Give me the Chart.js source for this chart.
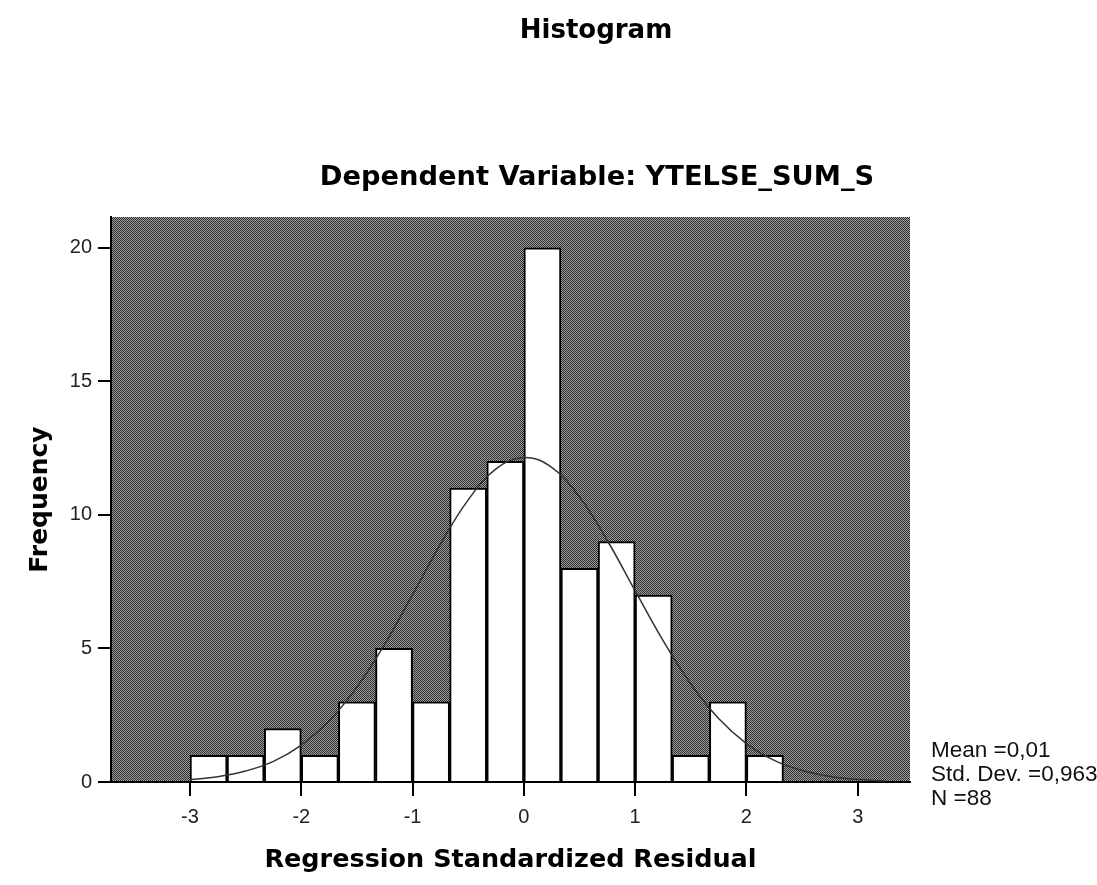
<!DOCTYPE html>
<html>
<head>
<meta charset="utf-8">
<script src="https://cdn.jsdelivr.net/npm/chart.js@4.4.1/dist/chart.umd.min.js"></script>
<style>
  body { margin: 0; background: #fff; }
  #wrap { width: 1097px; height: 885px; position: relative; overflow: hidden; }
</style>
</head>
<body>
<div id="wrap"><canvas id="hist" width="1097" height="885"></canvas></div>
<script>
// histogram bins (lower edge of each bin, width 1/3)
const binLower = [-3, -2.667, -2.333, -2, -1.667, -1.333, -1, -0.667, -0.333, 0, 0.333, 0.667, 1, 1.333, 1.667, 2];
const binWidth = 1 / 3;
const frequency = [1, 1, 2, 1, 3, 5, 3, 11, 12, 20, 8, 9, 7, 1, 3, 1];

// normal curve
const curveX = [-3, -2.75, -2.5, -2.25, -2, -1.75, -1.5, -1.25, -1, -0.75, -0.5, -0.25, 0, 0.25, 0.5, 0.75, 1, 1.25, 1.5, 1.75, 2, 2.25, 2.5, 2.75, 3, 3.25];
const curveY = [0.09, 0.2, 0.41, 0.77, 1.38, 2.29, 3.55, 5.16, 7.01, 8.9, 10.56, 11.72, 12.15, 11.78, 10.67, 9.04, 7.16, 5.3, 3.67, 2.38, 1.44, 0.81, 0.43, 0.21, 0.1, 0.04];

const xTicks = [-3, -2, -1, 0, 1, 2, 3];
const yTicks = [0, 5, 10, 15, 20];

const statLines = ['Mean =0,01', 'Std. Dev. =0,963', 'N =88'];

const barData = binLower.map((lo, i) => ({ x: lo + binWidth / 2, y: frequency[i] }));
const lineData = curveX.map((x, i) => ({ x: x, y: curveY[i] }));

const ctx = document.getElementById('hist').getContext('2d');

// checkered dark fill like the SPSS plot background
function makeHatch(c) {
	const tile = document.createElement('canvas');
	tile.width = 2; tile.height = 2;
	const g = tile.getContext('2d');
	g.fillStyle = '#9e9e9e';
	g.fillRect(0, 0, 2, 2);
	g.fillStyle = '#2e2e2e';
	g.fillRect(0, 0, 1, 1);
	g.fillRect(1, 1, 1, 1);
	return c.createPattern(tile, 'repeat');
}
const hatch = makeHatch(ctx);

const plotBackground = {
	id: 'plotBackground',
	beforeDraw(chart) {
		const a = chart.chartArea;
		const c = chart.ctx;
		c.save();
		c.fillStyle = hatch;
		c.fillRect(a.left, a.top, a.right - a.left, a.bottom - a.top);
		c.restore();
	}
};

const headerText = {
	id: 'headerText',
	afterDraw(chart) {
		const c = chart.ctx;
		c.save();
		c.fillStyle = '#000';
		c.textAlign = 'center';
		c.textBaseline = 'alphabetic';
		c.font = 'bold 26px "DejaVu Sans"';
		c.fillText('Histogram', 596, 38);
		c.font = 'bold 27.3px "DejaVu Sans"';
		c.fillText('Dependent Variable: YTELSE_SUM_S', 597, 185);

		c.textAlign = 'left';
		c.font = '22.5px "Liberation Sans"';
		c.fillStyle = '#111';
		statLines.forEach((s, i) => c.fillText(s, 931, 757 + i * 24));
		c.restore();
	}
};

new Chart(ctx, {
	type: 'bar',
	data: {
		datasets: [
			{
				type: 'line',
				data: lineData,
				borderColor: '#333',
				borderWidth: 1.5,
				pointRadius: 0,
				tension: 0.4,
				fill: false,
				order: 0
			},
			{
				type: 'bar',
				data: barData,
				backgroundColor: '#ffffff',
				borderColor: '#000',
				borderWidth: 2,
				barPercentage: 1,
				categoryPercentage: 1,
				order: 1
			}
		]
	},
	options: {
		responsive: false,
		animation: false,
		layout: { padding: { top: 217, right: 187, left: 0, bottom: 0 } },
		plugins: {
			legend: { display: false },
			tooltip: { enabled: false }
		},
		scales: {
			x: {
				type: 'linear',
				min: -3.71,
				max: 3.47,
				offset: false,
				afterBuildTicks: s => { s.ticks = xTicks.map(v => ({ value: v })); },
				afterFit: s => { s.height = 103; },
				grid: { drawOnChartArea: false, offset: false, tickLength: 14, color: '#000', lineWidth: 2 },
				border: { display: true, color: '#000', width: 2 },
				ticks: { color: '#222', padding: 9, font: { family: 'Liberation Sans', size: 20 } },
				title: {
					display: true,
					text: 'Regression Standardized Residual',
					color: '#000',
					font: { family: 'DejaVu Sans', size: 25.5, weight: 'bold' },
					padding: { top: 0, bottom: 9 }
				}
			},
			y: {
				min: 0,
				max: 21.15,
				afterBuildTicks: s => { s.ticks = yTicks.map(v => ({ value: v })); },
				afterFit: s => { s.width = 111; },
				grid: { drawOnChartArea: false, tickLength: 13, color: '#000', lineWidth: 2 },
				border: { display: true, color: '#000', width: 2 },
				ticks: { color: '#222', padding: 6, font: { family: 'Liberation Sans', size: 20 } },
				title: {
					display: true,
					text: 'Frequency',
					color: '#000',
					font: { family: 'DejaVu Sans', size: 25, weight: 'bold' },
					padding: { top: 25, bottom: 0 }
				}
			}
		}
	},
	plugins: [plotBackground, headerText]
});
</script>
</body>
</html>
